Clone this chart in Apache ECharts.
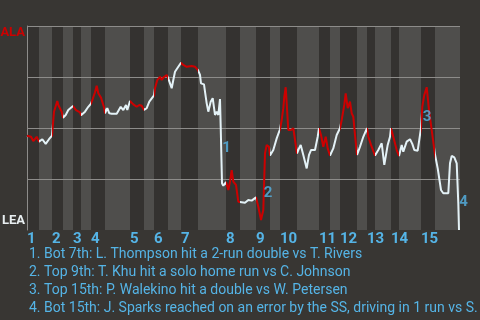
<!DOCTYPE html>
<html><head><meta charset="utf-8">
<script src="https://cdn.jsdelivr.net/npm/echarts@6/dist/echarts.min.js"></script>
<style>html,body{margin:0;padding:0;background:#383633}#c{width:480px;height:320px}</style>
</head><body><div id="c"></div>
<script>
// game progress (play units) and ALA win probability (%)
const progress = [0,4,6.3,9.7,12,15.3,18.7,22,25,27,30.3,31.3,34.7,36,38.7,41.3,46,47,49,53,54,58,61.3,64,65.7,68,69.7,71.3,74,77.3,78,80.3,82.3,84.7,89.7,93.7,96.3,99,100.3,103,106.3,109.7,112.3,114.7,117,119.7,122.3,127,128,130.3,133,134.7,136.3,139.7,141,143,144.7,146.3,148,150.3,154,156.3,159.7,164.7,168,169.7,171,173,174,177,178,179.7,181.3,183.7,185.7,188,189.7,191.3,193,193.7,195,196.3,199,201.3,203,204.7,206.3,209,211.3,213,218,221.3,224.7,229,231.3,234,234.7,236.3,237.3,238,239.7,242,243,246.3,249.7,253,254.7,256.3,257.3,258.7,259.7,261.3,264,266.3,268,270,272,273.7,276.3,279.7,282,284,288,290.7,292,294,296.3,298.7,300.7,303,306.3,309.7,313,314.7,317.3,318.7,320.7,323,324.7,326.3,328,330,333,336.3,340,341.3,344,348,351.3,354.7,357.3,360.7,363,364,366.3,369.7,372,374.7,376.3,379.7,383,385.3,387.3,390.7,394,395.3,397.3,399.7,402,404.7,408,410.7,414,416.3,421.3,423,424.7,427.3,429.7,431.3,432];
const alaWinPct = [46.2,45.7,43.6,45.7,43.3,44.5,42.2,44.5,46.3,58.0,63.2,61.3,58.0,55.0,56.4,58.8,60.8,60.0,58.8,57.7,56.2,58.0,60.4,62.0,64.2,67.5,70.7,67.0,64.9,59.7,57.2,59.7,57.2,57.0,57.0,60.4,58.8,61.3,58.8,63.2,61.6,60.4,61.3,60.9,58.8,59.7,62.9,66.0,69.5,73.5,75.1,73.5,74.7,76.0,74.7,71.9,69.5,73.5,77.6,79.3,82.0,80.9,80.0,80.4,80.0,80.9,78.4,76.0,71.9,71.4,67.8,62.1,58.0,62.9,64.6,56.4,58.0,56.4,64.2,50.6,22.9,21.7,23.5,19.6,23.7,29.4,23.7,22.1,13.9,14.7,13.4,14.7,14.4,16.0,11.4,4.9,4.1,9.8,26.1,37.6,41.7,40.8,36.5,39.2,44.9,49.4,53.9,59.7,65.3,70.0,62.1,49.0,49.0,49.9,49.9,37.5,40.0,41.7,36.8,30.2,36.8,39.2,39.2,45.7,49.9,46.6,40.8,45.7,40.0,36.5,40.0,46.6,49.9,53.9,61.3,67.0,59.7,62.9,57.2,55.5,46.6,36.8,40.8,45.7,49.9,45.7,41.7,36.5,39.2,42.5,31.9,41.7,45.7,49.9,45.7,39.2,36.3,41.7,38.4,43.3,44.5,42.2,39.2,38.9,49.9,60.4,66.2,70.0,58.8,49.0,37.0,30.2,19.6,18.0,18.0,32.7,36.3,35.6,32.7,13.1,0];
// half-inning boundaries (top, bottom alternating)
const halfInningBounds = [0,12,25,36,46,54,64,78,103,117,127,141,154,171,199,213,229,243,253,270,292,303,313,330,340,348,364,372,394,408,433];
const inningStarts = [0,25,46,64,103,127,154,199,229,253,292,313,340,364,394];
const inningLabels = ['1','2','3','4','5','6','7','8','9','10','11','12','13','14','15'];
const annotationX = [199.5,241,400,436.5];
const annotationPct = [40,18.1,55.1,13.5];
const annotationLabels = ['1','2','3','4'];
const notes = [
  '1. Bot 7th: L. Thompson hit a 2-run double vs T. Rivers',
  '2. Top 9th: T. Khu hit a solo home run vs C. Johnson',
  '3. Top 15th: P. Walekino hit a double vs W. Petersen',
  '4. Bot 15th: J. Sparks reached on an error by the SS, driving in 1 run vs S.'
];
const awayTeam = 'ALA', homeTeam = 'LEA';

const RED = '#cc0000', WHITE = '#e4f2f7', BLUE = '#55b4e6';
const DARK = '#343230', LIGHT = '#4f4e4c';
const xMax = halfInningBounds[halfInningBounds.length - 1];

const halves = [];
for (let i = 0; i < halfInningBounds.length - 1; i++) halves.push([halfInningBounds[i], halfInningBounds[i + 1], i % 2]);

const chart = echarts.init(document.getElementById('c'), null, {renderer: 'canvas'});
chart.setOption({
  backgroundColor: '#383633',
  animation: false,
  grid: {left: 27, right: 20, top: 26, bottom: 90, containLabel: false, outerBoundsMode: 'none'},
  xAxis: {
    type: 'value', min: 0, max: xMax,
    axisLine: {show: false}, axisTick: {show: false}, splitLine: {show: false},
    axisLabel: {
      customValues: inningStarts,
      formatter: v => inningLabels[inningStarts.indexOf(v)] || '',
      align: 'left', margin: 2,
      color: BLUE, fontFamily: 'Roboto', fontWeight: 'bold', fontSize: 15
    }
  },
  yAxis: {
    type: 'value', min: 0, max: 100, interval: 25, z: 3,
    axisLine: {show: true, lineStyle: {color: '#8d8c8a', width: 1}},
    axisTick: {show: false},
    splitLine: {show: true, showMinLine: false, lineStyle: {color: '#8d8c8a', width: 1}},
    axisLabel: {
      margin: 2,
      formatter: v => v === 100 ? '{a|' + awayTeam + '}' : (v === 0 ? '{b|' + homeTeam + '}' : ''),
      rich: {
        a: {color: RED, fontFamily: 'Roboto', fontWeight: 'bold', fontSize: 13, padding: [14, 0, 0, 0]},
        b: {color: '#e8eef0', fontFamily: 'Roboto', fontWeight: 'bold', fontSize: 13, padding: [0, 0, 18, 0]}
      }
    }
  },
  visualMap: {
    type: 'piecewise', show: false, dimension: 0, seriesIndex: 1,
    pieces: halves.map((h, i) => i === halves.length - 1
      ? {gte: h[0], lte: h[1] + 10, color: h[2] ? WHITE : RED}
      : {gte: h[0], lt: h[1], color: h[2] ? WHITE : RED}),
    outOfRange: {color: WHITE}
  },
  series: [
    {
      type: 'custom', z: 1, silent: true,
      data: halves,
      encode: {x: [0, 1]},
      renderItem: function (params, api) {
        const p1 = api.coord([api.value(0), 100]);
        const p2 = api.coord([api.value(1), 0]);
        return {type: 'rect', shape: {x: p1[0], y: p1[1], width: p2[0] - p1[0], height: p2[1] - p1[1]},
          style: {fill: api.value(2) ? LIGHT : DARK}};
      }
    },
    {
      type: 'line', z: 5, showSymbol: false, silent: true,
      data: progress.map((x, i) => [x, alaWinPct[i]]),
      lineStyle: {width: 2}
    },
    {
      type: 'scatter', z: 6, clip: false, silent: true, symbolSize: 1,
      itemStyle: {color: 'rgba(0,0,0,0)'},
      data: annotationX.map((x, i) => [x, annotationPct[i], annotationLabels[i]]),
      label: {show: true, position: 'inside', formatter: p => p.value[2],
        color: BLUE, fontFamily: 'Roboto', fontWeight: 'bold', fontSize: 15}
    }
  ],
  graphic: [{
    type: 'text', left: 29, top: 245, silent: true,
    style: {text: notes.join('\n'), fill: BLUE, font: '14px Roboto', lineHeight: 18}
  }]
});
</script></body></html>
